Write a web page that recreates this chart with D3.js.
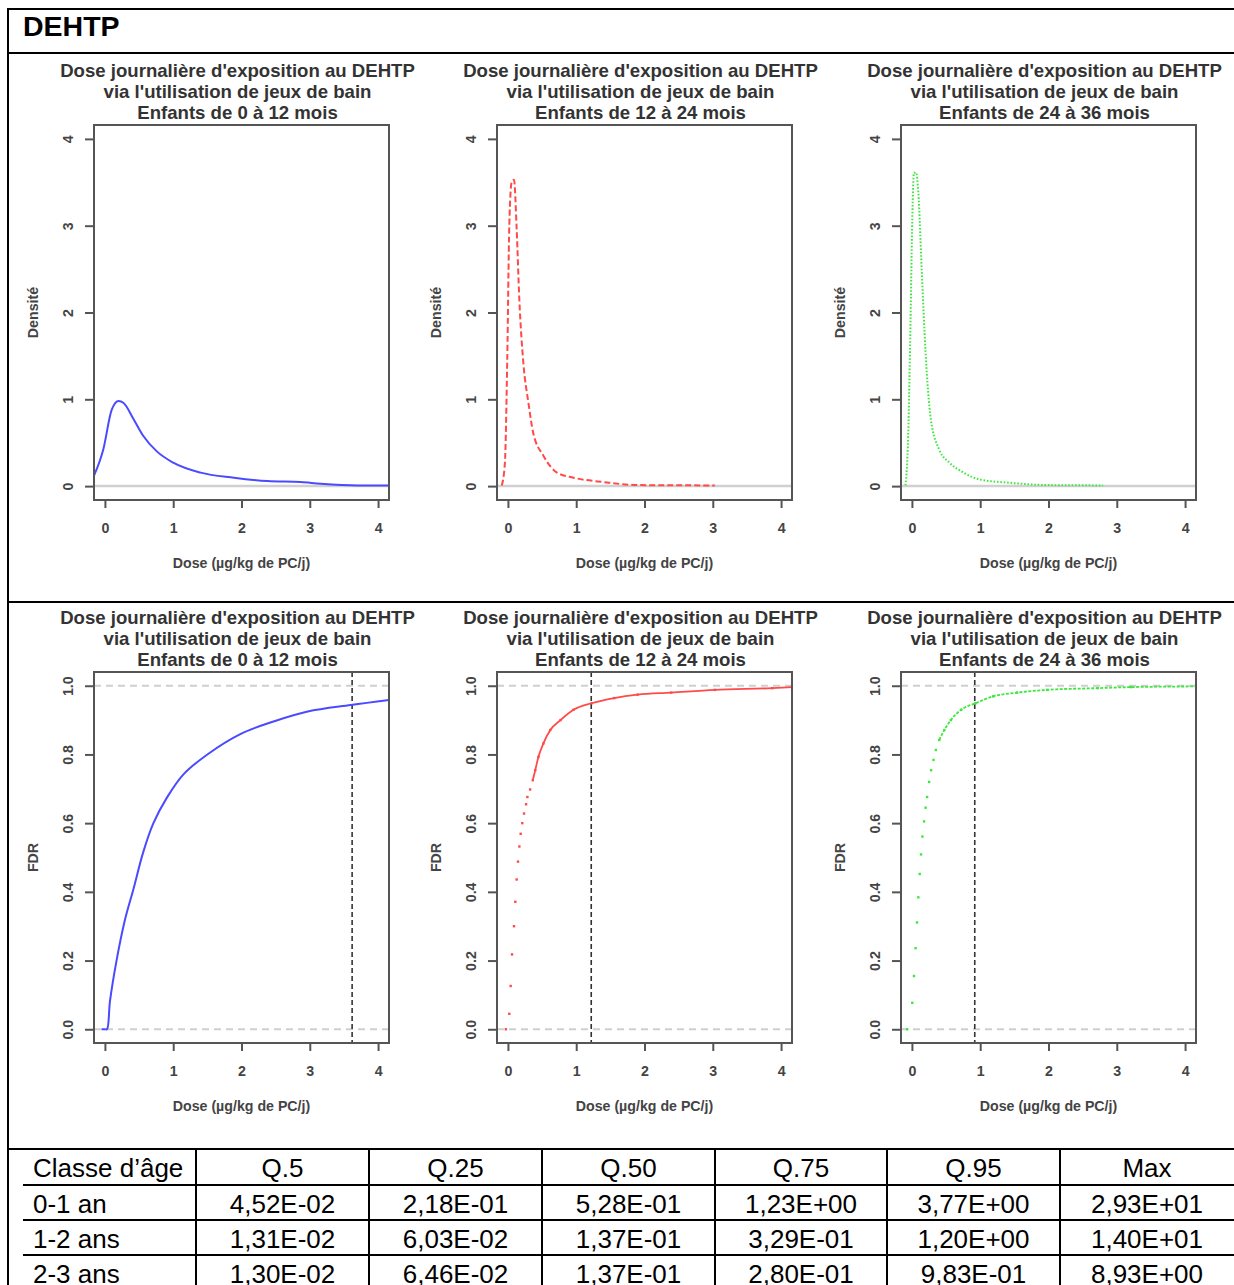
<!DOCTYPE html>
<html>
<head>
<meta charset="utf-8">
<script src="https://cdn.jsdelivr.net/npm/d3@7"></script>
<style>
  html, body { margin: 0; padding: 0; background: #fff; }
  svg { display: block; }
  text { font-family: "Liberation Sans", Arial, sans-serif; }
</style>
</head>
<body>
<script>
// ---------------- DATA ----------------
const chartTitle = "DEHTP";
const titleLine1 = "Dose journalière d'exposition au DEHTP";
const titleLine2 = "via l'utilisation de jeux de bain";
const ageGroups = ["Enfants de 0 à 12 mois", "Enfants de 12 à 24 mois", "Enfants de 24 à 36 mois"];
const xLabel = "Dose (µg/kg de PC/j)";
const densityLabel = "Densité";
const fdrLabel = "FDR";
const doseTicks = [0, 1, 2, 3, 4];
const densityTicks = [0, 1, 2, 3, 4];
const fdrTicks = [0, 0.2, 0.4, 0.6, 0.8, 1.0];
const seriesColors = ["#4a4aff", "#ff4a4a", "#3de83d"];

// density curves [dose, density]
const density0_12 = [
  [-0.16, 0.12], [-0.025, 0.42], [0.10, 0.88], [0.20, 0.98], [0.27, 0.96], [0.42, 0.77],
  [0.56, 0.58], [0.76, 0.40], [1.0, 0.27], [1.40, 0.155], [1.89, 0.097], [2.38, 0.058],
  [2.87, 0.046], [3.16, 0.027], [3.70, 0.008], [4.16, 0.008]
];
const density12_24 = [
  [-0.09, 0.008], [-0.044, 0.27], [-0.01, 1.46], [0.02, 3.0], [0.054, 3.50], [0.089, 3.53],
  [0.128, 2.96], [0.167, 2.15], [0.226, 1.42], [0.30, 0.96], [0.37, 0.615], [0.52, 0.35],
  [0.72, 0.155], [0.96, 0.097], [1.41, 0.046], [1.90, 0.012], [3.03, 0.008]
];
const density24_36 = [
  [-0.094, 0.008], [-0.055, 0.58], [-0.02, 1.92], [0.005, 3.07], [0.03, 3.61], [0.064, 3.61],
  [0.094, 3.38], [0.143, 2.50], [0.20, 1.54], [0.277, 0.77], [0.40, 0.42], [0.55, 0.27],
  [0.745, 0.16], [0.99, 0.077], [1.44, 0.038], [1.98, 0.012], [2.80, 0.008]
];

// cumulative distribution [dose, FDR]
const fdr0_12 = [
  [-0.05, 0.0], [0.0, 0.0], [0.03, 0.0], [0.074, 0.082], [0.17, 0.20], [0.29, 0.316],
  [0.42, 0.41], [0.56, 0.515], [0.71, 0.60], [0.91, 0.675], [1.15, 0.742], [1.50, 0.80],
  [1.99, 0.86], [2.47, 0.896], [2.97, 0.925], [3.60, 0.944], [4.17, 0.959]
];
const fdr12_24 = [
  [-0.03, 0.0], [0.02, 0.045], [0.04, 0.126], [0.06, 0.218], [0.089, 0.30], [0.108, 0.371],
  [0.128, 0.436], [0.148, 0.488], [0.167, 0.532], [0.187, 0.569], [0.21, 0.60], [0.236, 0.628],
  [0.266, 0.655], [0.285, 0.676], [0.325, 0.698], [0.364, 0.725], [0.40, 0.754], [0.447, 0.793],
  [0.52, 0.832], [0.62, 0.871], [0.77, 0.90], [0.96, 0.93], [1.225, 0.949], [1.555, 0.964],
  [1.90, 0.974], [2.39, 0.98], [3.03, 0.988], [3.87, 0.993], [4.19, 0.996]
];
const fdr24_36 = [
  [-0.07, 0.0], [0.005, 0.077], [0.03, 0.155], [0.054, 0.236], [0.074, 0.311], [0.094, 0.384],
  [0.114, 0.452], [0.133, 0.509], [0.153, 0.561], [0.178, 0.605], [0.20, 0.645], [0.222, 0.676],
  [0.252, 0.72], [0.281, 0.754], [0.316, 0.784], [0.35, 0.813], [0.40, 0.842], [0.474, 0.871],
  [0.57, 0.90], [0.72, 0.93], [0.93, 0.949], [1.19, 0.969], [1.54, 0.98], [1.98, 0.988],
  [2.72, 0.993], [3.21, 0.996], [4.18, 0.998]
];
const q95Lines = [3.62, 1.22, 0.92];

// table
const tableHeader = ["Classe d’âge", "Q.5", "Q.25", "Q.50", "Q.75", "Q.95", "Max"];
const tableAges = ["0-1 an", "1-2 ans", "2-3 ans"];
const tableQ5 = ["4,52E-02", "1,31E-02", "1,30E-02"];
const tableQ25 = ["2,18E-01", "6,03E-02", "6,46E-02"];
const tableQ50 = ["5,28E-01", "1,37E-01", "1,37E-01"];
const tableQ75 = ["1,23E+00", "3,29E-01", "2,80E-01"];
const tableQ95 = ["3,77E+00", "1,20E+00", "9,83E-01"];
const tableMax = ["2,93E+01", "1,40E+01", "8,93E+00"];

// ---------------- DRAW ----------------
const W = 1234, H = 1285;
const svg = d3.select("body").append("svg").attr("width", W).attr("height", H);

const frameColor = "#000";
function hline(x1, x2, y, w) {
  svg.append("line").attr("x1", x1).attr("x2", x2).attr("y1", y).attr("y2", y)
    .attr("stroke", frameColor).attr("stroke-width", w);
}
function vline(x, y1, y2, w) {
  svg.append("line").attr("x1", x).attr("x2", x).attr("y1", y1).attr("y2", y2)
    .attr("stroke", frameColor).attr("stroke-width", w);
}

// outer frame
hline(8, W, 9, 2);
vline(8, 8, H, 2);
hline(8, W, 53, 2);
hline(8, W, 602, 2);
hline(8, W, 1149, 2);

svg.append("text").attr("x", 23).attr("y", 36).attr("font-size", 28.5).attr("font-weight", "bold")
  .attr("fill", "#000").text(chartTitle);

const boxLefts = [94, 497, 901];
const boxW = 295;
const rows = [
  { top: 125, bottom: 500, domain: [-0.16, 4.16], ticks: densityTicks, fmt: d3.format("d"), label: densityLabel,
    data: [density0_12, density12_24, density24_36], type: "density" },
  { top: 672, bottom: 1043, domain: [-0.04, 1.04], ticks: fdrTicks, fmt: d3.format(".1f"), label: fdrLabel,
    data: [fdr0_12, fdr12_24, fdr24_36], type: "fdr" }
];

const textCol = "#333";
const boxCol = "#555";
const smallFont = 14.2;
let clipId = 0;

rows.forEach((row) => {
  boxLefts.forEach((bx, i) => {
    const x = d3.scaleLinear().domain([-0.16, 4.16]).range([bx, bx + boxW]);
    const y = d3.scaleLinear().domain(row.domain).range([row.bottom, row.top]);
    const g = svg.append("g");
    const cx = bx + boxW / 2;

    // title
    const tb = row.top - 48;
    [titleLine1, titleLine2, ageGroups[i]].forEach((t, k) => {
      g.append("text").attr("x", cx - 4).attr("y", tb + k * 21).attr("text-anchor", "middle")
        .attr("font-size", 18.6).attr("font-weight", "bold").attr("fill", textCol).text(t);
    });

    // clip
    const id = "clip" + (clipId++);
    g.append("clipPath").attr("id", id).append("rect")
      .attr("x", bx).attr("y", row.top).attr("width", boxW).attr("height", row.bottom - row.top);
    const plot = g.append("g").attr("clip-path", `url(#${id})`);

    if (row.type === "density") {
      plot.append("line").attr("x1", bx).attr("x2", bx + boxW).attr("y1", y(0)).attr("y2", y(0))
        .attr("stroke", "#d0d0d0").attr("stroke-width", 2.5);
      const line = d3.line().x(d => x(d[0])).y(d => y(d[1])).curve(d3.curveMonotoneX);
      const p = plot.append("path").datum(row.data[i]).attr("d", line)
        .attr("fill", "none").attr("stroke", seriesColors[i]).attr("stroke-width", 2)
        .attr("stroke-linejoin", "round");
      if (i === 1) p.attr("stroke-dasharray", "6,3");
      if (i === 2) p.attr("stroke-dasharray", "1.6,1.8");
    } else {
      [0, 1].forEach(v => {
        plot.append("line").attr("x1", bx).attr("x2", bx + boxW).attr("y1", y(v)).attr("y2", y(v))
          .attr("stroke", "#cfcfcf").attr("stroke-width", 2).attr("stroke-dasharray", "7,5");
      });
      plot.append("line").attr("x1", x(q95Lines[i])).attr("x2", x(q95Lines[i]))
        .attr("y1", row.top).attr("y2", row.bottom)
        .attr("stroke", "#333").attr("stroke-width", 1.6).attr("stroke-dasharray", "5,3");
      if (i === 0) {
        const smooth = d3.line().x(d => x(d[0])).y(d => y(d[1])).curve(d3.curveCatmullRom.alpha(0.5));
        plot.append("path").datum(row.data[i]).attr("d", smooth)
          .attr("fill", "none").attr("stroke", seriesColors[i]).attr("stroke-width", 2);
      } else {
        const line = d3.line().x(d => x(d[0])).y(d => y(d[1])).curve(d3.curveMonotoneX);
        // dense upper part looks like a line, lower part are separate dots
        plot.append("path").datum(row.data[i].filter(d => d[0] >= 0.36)).attr("d", line)
          .attr("fill", "none").attr("stroke", seriesColors[i]).attr("stroke-width", 1.8)
          .attr("stroke-dasharray", i === 2 ? "3,1.5" : null);
        plot.selectAll("rect.pt").data(row.data[i]).enter().append("rect")
          .attr("x", d => x(d[0]) - 1.2).attr("y", d => y(d[1]) - 1.2)
          .attr("width", 2.4).attr("height", 2.4).attr("fill", seriesColors[i]);
      }
    }

    // box
    g.append("rect").attr("x", bx).attr("y", row.top).attr("width", boxW).attr("height", row.bottom - row.top)
      .attr("fill", "none").attr("stroke", boxCol).attr("stroke-width", 2);

    // x axis
    const xa = g.append("g").attr("transform", `translate(0,${row.bottom})`)
      .call(d3.axisBottom(x).tickValues(doseTicks).tickSize(8).tickFormat(d3.format("d")));
    xa.select(".domain").remove();
    xa.selectAll(".tick line").attr("stroke", boxCol).attr("stroke-width", 2);
    xa.selectAll(".tick text").attr("y", 28).attr("dy", "0.35em")
      .attr("font-size", smallFont).attr("font-weight", "bold").attr("fill", "#444")
      .attr("font-family", "Liberation Sans, Arial, sans-serif");

    // y axis
    const ya = g.append("g").attr("transform", `translate(${bx},0)`)
      .call(d3.axisLeft(y).tickValues(row.ticks).tickSize(9).tickFormat(row.fmt));
    ya.select(".domain").remove();
    ya.selectAll(".tick line").attr("stroke", boxCol).attr("stroke-width", 2);
    ya.selectAll(".tick text").attr("transform", "rotate(-90)").attr("x", 0).attr("y", -26)
      .attr("dy", "0.35em").attr("text-anchor", "middle")
      .attr("font-size", smallFont).attr("font-weight", "bold").attr("fill", "#444")
      .attr("font-family", "Liberation Sans, Arial, sans-serif");

    // axis labels
    g.append("text").attr("x", cx).attr("y", row.bottom + 63).attr("dy", "0.35em")
      .attr("text-anchor", "middle").attr("font-size", smallFont).attr("font-weight", "bold")
      .attr("fill", "#444").text(xLabel);
    g.append("text").attr("transform", `translate(${bx - 61},${(row.top + row.bottom) / 2}) rotate(-90)`)
      .attr("dy", "0.35em").attr("text-anchor", "middle").attr("font-size", smallFont).attr("font-weight", "bold")
      .attr("fill", "#444").text(row.label);
  });
});

// ---------------- TABLE ----------------
const colEdges = [23, 196, 369, 542, 715, 887, 1060, 1234];
const rowEdges = [1149, 1185, 1220, 1255, 1290];
colEdges.slice(1, -1).forEach(cxp => vline(cxp, 1149, H, 2));
rowEdges.slice(1, 4).forEach(ry => hline(23, W, ry, 2));

const tableRowsData = [tableHeader].concat(tableAges.map((a, r) =>
  [a, tableQ5[r], tableQ25[r], tableQ50[r], tableQ75[r], tableQ95[r], tableMax[r]]));
const tFont = 26;
tableRowsData.forEach((cells, r) => {
  const midY = (rowEdges[r] + rowEdges[r + 1]) / 2;
  cells.forEach((c, k) => {
    const t = svg.append("text").attr("y", midY + 1).attr("dy", "0.36em")
      .attr("font-size", tFont).attr("fill", "#000").text(c);
    if (k === 0) t.attr("x", 33);
    else t.attr("x", (colEdges[k] + colEdges[k + 1]) / 2).attr("text-anchor", "middle");
  });
});
</script>
</body>
</html>
